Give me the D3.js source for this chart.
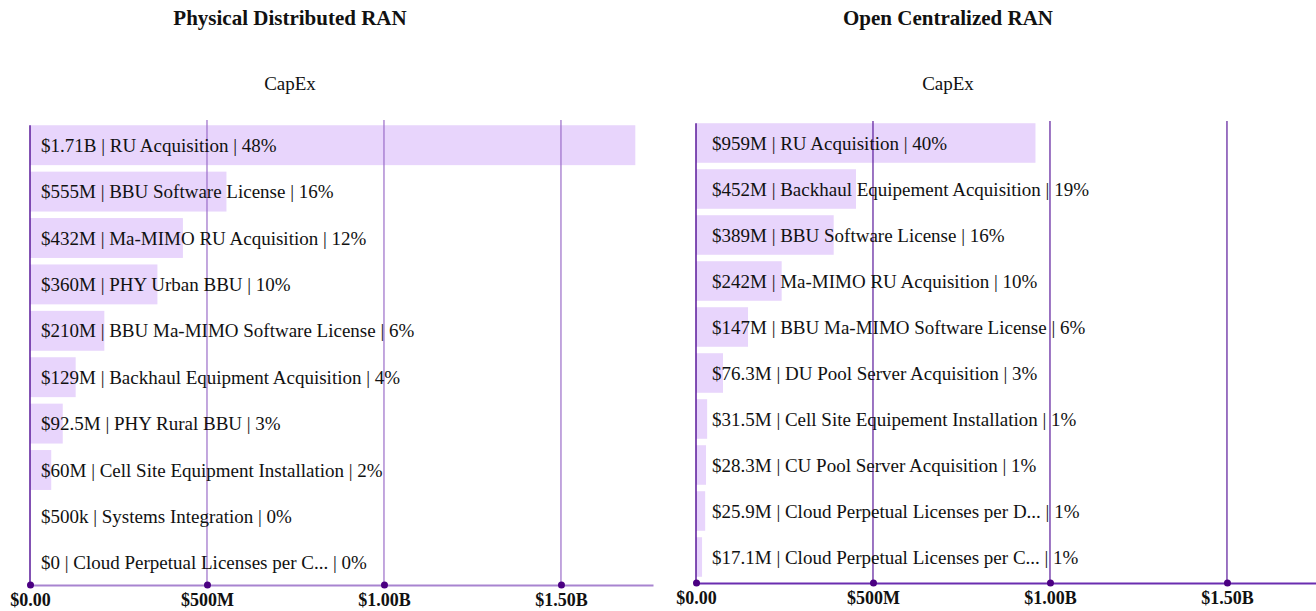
<!DOCTYPE html>
<html>
<head>
<meta charset="utf-8">
<script src="https://cdn.jsdelivr.net/npm/d3@7"></script>
<style>
  body { margin: 0; background: #fff; }
  svg { display: block; }
  text { font-family: "Liberation Serif", serif; fill: #111; }
</style>
</head>
<body>
<svg id="chart" width="1316" height="611"></svg>
<script>
// Physical Distributed RAN
const pdCategories = ["RU Acquisition", "BBU Software License", "Ma-MIMO RU Acquisition", "PHY Urban BBU",
  "BBU Ma-MIMO Software License", "Backhaul Equipment Acquisition", "PHY Rural BBU",
  "Cell Site Equipment Installation", "Systems Integration", "Cloud Perpetual Licenses per C..."];
const pdValues = [1.71e9, 555e6, 432e6, 360e6, 210e6, 129e6, 92.5e6, 60e6, 500e3, 0];
const pdValueLabels = ["$1.71B", "$555M", "$432M", "$360M", "$210M", "$129M", "$92.5M", "$60M", "$500k", "$0"];
const pdShares = ["48%", "16%", "12%", "10%", "6%", "4%", "3%", "2%", "0%", "0%"];

// Open Centralized RAN
const ocCategories = ["RU Acquisition", "Backhaul Equipement Acquisition", "BBU Software License",
  "Ma-MIMO RU Acquisition", "BBU Ma-MIMO Software License", "DU Pool Server Acquisition",
  "Cell Site Equipement Installation", "CU Pool Server Acquisition",
  "Cloud Perpetual Licenses per D...", "Cloud Perpetual Licenses per C..."];
const ocValues = [959e6, 452e6, 389e6, 242e6, 147e6, 76.3e6, 31.5e6, 28.3e6, 25.9e6, 17.1e6];
const ocValueLabels = ["$959M", "$452M", "$389M", "$242M", "$147M", "$76.3M", "$31.5M", "$28.3M", "$25.9M", "$17.1M"];
const ocShares = ["40%", "19%", "16%", "10%", "6%", "3%", "1%", "1%", "1%", "1%"];

const tickValues = [0, 5e8, 1e9, 1.5e9];
const tickLabels = ["$0.00", "$500M", "$1.00B", "$1.50B"];

const svg = d3.select("#chart");

function drawPanel(cfg) {
    const rows = cfg.categories.map((c, i) => ({
        name: c,
        value: cfg.values[i],
        label: `${cfg.valueLabels[i]} | ${c} | ${cfg.shares[i]}`
    }));

    const g = svg.append("g");

    const x = d3.scaleLinear()
        .domain([0, 1.76e9])
        .range([cfg.left, cfg.left + 623]);

    const y = d3.scaleBand()
        .domain(rows.map(d => d.name))
        .range([cfg.top, cfg.bottom])
        .paddingInner(0.14)
        .paddingOuter(0.07);

    g.append("text")
        .attr("x", cfg.center)
        .attr("y", 25)
        .attr("text-anchor", "middle")
        .style("font-size", "21px")
        .style("font-weight", "bold")
        .text(cfg.title);

    g.append("text")
        .attr("x", cfg.center)
        .attr("y", 90)
        .attr("text-anchor", "middle")
        .style("font-size", "19px")
        .text("CapEx");

    g.selectAll(".bar")
        .data(rows)
        .join("rect")
        .attr("class", "bar")
        .attr("x", x(0))
        .attr("y", d => y(d.name))
        .attr("width", d => x(d.value) - x(0))
        .attr("height", y.bandwidth())
        .attr("fill", "#e8d5fc");

    // grid
    g.selectAll(".grid")
        .data(tickValues.slice(1))
        .join("line")
        .attr("x1", d => x(d))
        .attr("x2", d => x(d))
        .attr("y1", cfg.gridTop)
        .attr("y2", cfg.axisY)
        .attr("stroke", cfg.gridColor)
        .attr("stroke-width", 1.2);

    g.selectAll(".lbl")
        .data(rows)
        .join("text")
        .attr("x", x(0) + cfg.textOffset)
        .attr("y", d => y(d.name) + y.bandwidth() / 2)
        .attr("dy", "0.35em")
        .style("font-size", "19px")
        .text(d => d.label);

    // y axis line
    g.append("line")
        .attr("x1", x(0)).attr("x2", x(0))
        .attr("y1", y(rows[0].name)).attr("y2", cfg.axisY)
        .attr("stroke", "#5a189a")
        .attr("stroke-width", 1.5);

    const axis = g.append("g")
        .attr("transform", `translate(0, ${cfg.axisY})`)
        .call(d3.axisBottom(x)
            .tickValues(tickValues)
            .tickFormat((d, i) => tickLabels[i])
            .tickSize(0)
            .tickPadding(8));

    axis.select(".domain")
        .attr("stroke", cfg.axisColor)
        .attr("stroke-width", 2);
    axis.selectAll(".tick text")
        .style("font-family", "'Liberation Serif', serif")
        .style("font-size", "18px")
        .style("font-weight", "bold")
        .attr("fill", "#111");
    axis.selectAll(".tick")
        .append("circle")
        .attr("r", 3.5)
        .attr("fill", "#4b0082");
}

drawPanel({
    title: "Physical Distributed RAN",
    categories: pdCategories, values: pdValues, valueLabels: pdValueLabels, shares: pdShares,
    left: 30, center: 290, top: 122, bottom: 586, axisY: 585, gridTop: 120, textOffset: 11,
    gridColor: "#9a6cc8", axisColor: "#a884d0"
});

drawPanel({
    title: "Open Centralized RAN",
    categories: ocCategories, values: ocValues, valueLabels: ocValueLabels, shares: ocShares,
    left: 696, center: 948, top: 120, bottom: 580, axisY: 583, gridTop: 121, textOffset: 16,
    gridColor: "#5a189a", axisColor: "#6a2db0"
});
</script>
</body>
</html>
